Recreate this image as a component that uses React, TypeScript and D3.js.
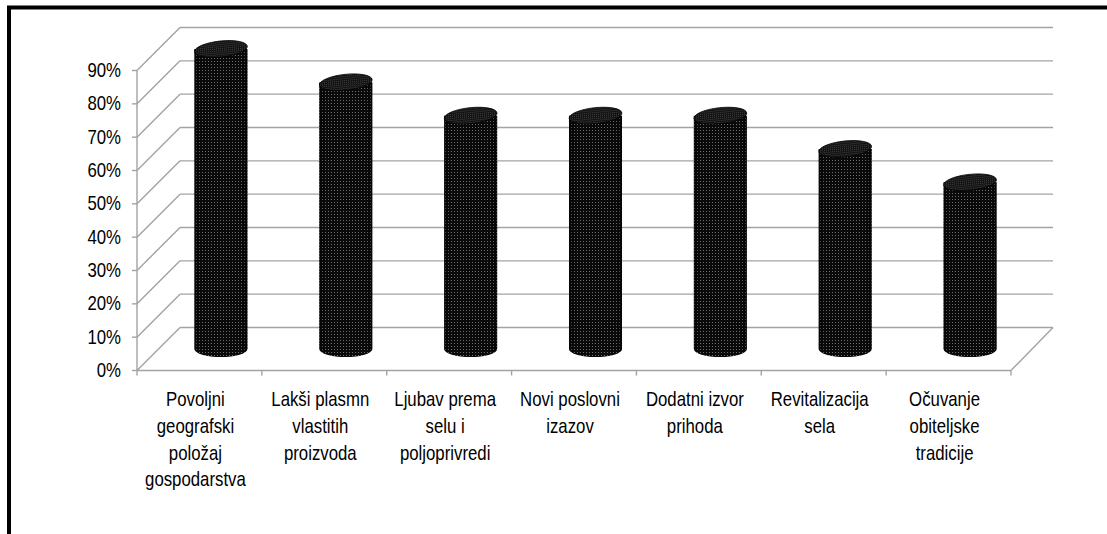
import React from "react";
import * as d3 from "d3";

const categories: string[][] = [
  ["Povoljni", "geografski", "položaj", "gospodarstva"],
  ["Lakši plasmn", "vlastitih", "proizvoda"],
  ["Ljubav prema", "selu i", "poljoprivredi"],
  ["Novi poslovni", "izazov"],
  ["Dodatni izvor", "prihoda"],
  ["Revitalizacija", "sela"],
  ["Očuvanje", "obiteljske", "tradicije"],
];
const values = [90, 80, 70, 70, 70, 60, 50];
const yTicks = [0, 10, 20, 30, 40, 50, 60, 70, 80, 90];

const W = 1107;
const H = 534;
const depth = 43; // 3d offset of back wall
const grid = "#a3a3a3";
const fontFamily = "'Liberation Sans', Arial, sans-serif";

export default function App() {
  const x = d3
    .scaleBand<number>()
    .domain(d3.range(categories.length))
    .range([137, 1011]);
  const y = d3.scaleLinear().domain([0, 90]).range([370.5, 70.5]);

  const bw = x.bandwidth();
  const r = 26.5;
  const ry = 8;
  const half = depth / 2;

  return (
    <svg
      width={W}
      height={H}
      style={{ position: "absolute", left: 0, top: 0, background: "#fff" }}
    >
      <defs>
        <pattern id="dots" width="3" height="3" patternUnits="userSpaceOnUse">
          <rect width="3" height="3" fill="#0a0a0a" />
          <rect x="1" y="1" width="1" height="1" fill="#6e6e6e" />
        </pattern>
        <pattern id="dotsTop" width="2" height="2" patternUnits="userSpaceOnUse">
          <rect width="2" height="2" fill="#111" />
          <rect x="0" y="0" width="1" height="1" fill="#444" />
        </pattern>
        <linearGradient id="shade" x1="0" x2="1" y1="0" y2="0">
          <stop offset="0" stopColor="#000" stopOpacity="0.5" />
          <stop offset="0.12" stopColor="#000" stopOpacity="0" />
          <stop offset="0.88" stopColor="#000" stopOpacity="0" />
          <stop offset="1" stopColor="#000" stopOpacity="0.5" />
        </linearGradient>
      </defs>

      {/* frame */}
      <rect x={9} y={7.5} width={W + 20} height={H + 20} fill="none" stroke="#000" strokeWidth={4} />

      {/* back wall gridlines + side wall diagonals */}
      {yTicks.map((t) => (
        <g key={t}>
          <line
            x1={137 + depth}
            x2={1011 + depth - 1}
            y1={y(t) - depth}
            y2={y(t) - depth}
            stroke={grid}
            strokeWidth={1.4}
          />
          <line
            x1={137}
            x2={137 + depth}
            y1={y(t)}
            y2={y(t) - depth}
            stroke={grid}
            strokeWidth={1.4}
          />
          <line x1={132} x2={137} y1={y(t)} y2={y(t)} stroke={grid} strokeWidth={1.4} />
          <text
            transform={`translate(121,${y(t) + 6.5}) scale(0.84,1)`}
            textAnchor="end"
            fontFamily={fontFamily}
            fontSize={20}
            fill="#000"
          >
            {t}%
          </text>
        </g>
      ))}

      {/* floor */}
      <line x1={137} x2={1011} y1={y(0)} y2={y(0)} stroke={grid} strokeWidth={1.4} />
      <line x1={1011} x2={1011 + depth - 1} y1={y(0)} y2={y(0) - depth} stroke={grid} strokeWidth={1.4} />
      <line x1={137} x2={137} y1={y(90)} y2={y(0)} stroke={grid} strokeWidth={1.4} />
      {d3.range(categories.length + 1).map((i) => {
        const tx = 137 + i * bw;
        return <line key={i} x1={tx} x2={tx} y1={y(0)} y2={y(0) + 5} stroke={grid} strokeWidth={1.4} />;
      })}

      {/* cylinders */}
      {values.map((v, i) => {
        const cx = (x(i) as number) + bw / 2 + half;
        const yb = y(0) - half;
        const yt = y(v) - half;
        const body = `M${cx - r},${yt} L${cx - r},${yb} A${r},${ry} 0 0 0 ${cx + r},${yb} L${cx + r},${yt} Z`;
        return (
          <g key={i}>
            <path d={body} fill="url(#dots)" />
            <path d={body} fill="url(#shade)" />
            <ellipse
              cx={cx}
              cy={yt}
              rx={r}
              ry={ry}
              transform={`rotate(-6,${cx},${yt})`}
              fill="url(#dotsTop)"
              stroke="#000"
              strokeWidth={0.8}
            />
          </g>
        );
      })}

      {/* category labels */}
      {categories.map((lines, i) => {
        const cx = (x(i) as number) + bw / 2 - 4;
        return (
          <g key={i}>
            {lines.map((ln, j) => (
              <text
                key={j}
                transform={`translate(${cx},${406 + j * 26.8}) scale(0.84,1)`}
                textAnchor="middle"
                fontFamily={fontFamily}
                fontSize={20}
                fill="#000"
              >
                {ln}
              </text>
            ))}
          </g>
        );
      })}
    </svg>
  );
}
